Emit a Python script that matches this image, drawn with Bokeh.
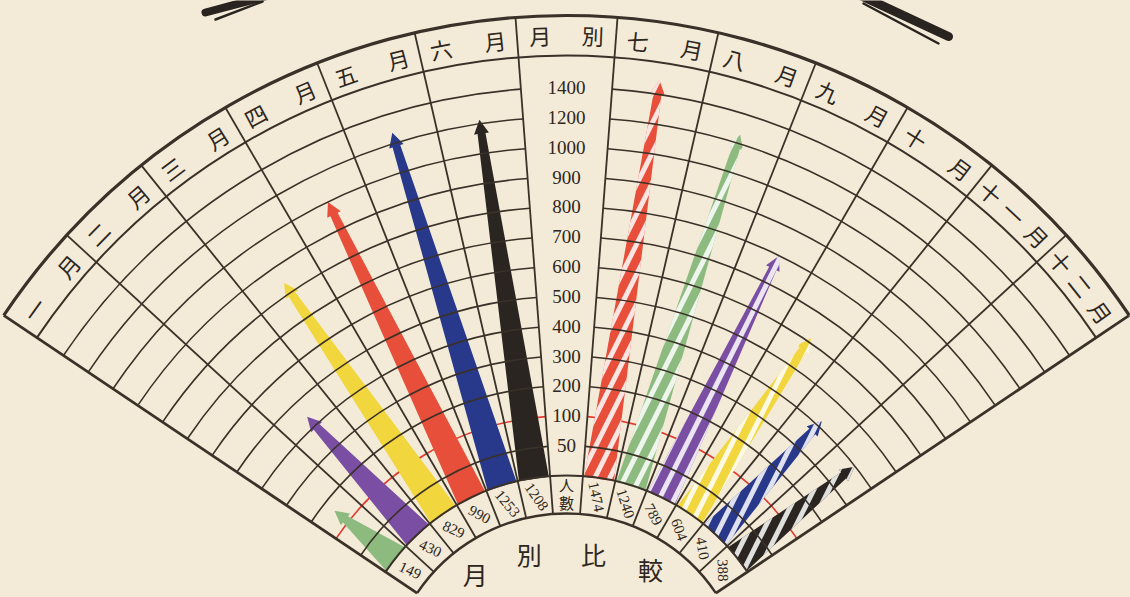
import math
import numpy as np
from bokeh.plotting import figure
from bokeh.models import Range1d
from bokeh.core.properties import value
from bokeh.embed import file_html
from bokeh.resources import INLINE

# ---------------- data ----------------
months = ["一月", "二月", "三月", "四月", "五月", "六月",
          "七月", "八月", "九月", "十月", "十一月", "十二月"]
counts = [149, 430, 829, 990, 1253, 1208, 1474, 1240, 789, 604, 410, 388]
bar_colors = ["#8dbb7f", "#7a4ea2", "#f1d63e", "#e74f3a", "#28398c", "#2a2521",
              "#e74f3a", "#8dbb7f", "#7a4ea2", "#f1d63e", "#28398c", "#2a2521"]
scale_values = [0, 50, 100, 200, 300, 400, 500, 600, 700, 800, 900, 1000, 1200, 1400]
scale_labels = ["50", "100", "200", "300", "400", "500", "600", "700",
                "800", "900", "1000", "1200", "1400"]
center_header = ["月", "別"]
center_cell = ["人", "數"]
title_chars = ["月", "別", "比", "較"]

# ---------------- layout ----------------
W, H = 1130, 597
BG = "#f3ebd7"
INK = "#3a3128"
CX, CY = 566.0, -96.0          # fan centre (y measured upward, page y = 597 - Y)
R_OUT, R_HEAD, R0, R_IN = 678.0, 638.0, 218.0, 180.0
STEP = 29.85
TH_R, TH_L = 33.9, 146.1
NSEC = 13
DTH = (TH_L - TH_R) / NSEC
month_sector = [0, 1, 2, 3, 4, 5, 7, 8, 9, 10, 11, 12]
cell_text_angle = [-25, -25, -24, -28, -50, -55, -78, -72, -62, -70, -80, -88]
CJK = value("Noto Sans CJK JP")
SERIF = value("Liberation Serif")
rad = math.radians


def level(v):
    if v <= scale_values[-1]:
        return float(np.interp(v, scale_values, np.arange(len(scale_values))))
    return len(scale_values) - 1 + (v - scale_values[-1]) / (scale_values[-1] - scale_values[-2])


def sec_center(k):
    return TH_L - (k + 0.5) * DTH


def pol(r, th, d=0.0):
    t = math.radians(th)
    ux, uy = math.cos(t), math.sin(t)
    return CX + r * ux - d * uy, CY + r * uy + d * ux


p = figure(width=W, height=H, x_range=Range1d(0, W), y_range=Range1d(597 - H, 597),
           output_backend="svg", toolbar_location=None, min_border=0,
           background_fill_color=BG, border_fill_color=BG)
p.axis.visible = False
p.grid.visible = False
p.outline_line_color = None

try:
    from bokeh.models import GlobalInlineStyleSheet
    p.stylesheets = [GlobalInlineStyleSheet(css="html, body { background-color: %s; }" % BG)]
except Exception:
    pass

b6 = TH_L - 6 * DTH
b7 = TH_L - 7 * DTH

# red 100-line (under the bars)
r100 = R0 + level(100) * STEP
p.arc(x=[CX, CX], y=[CY, CY], radius=r100, start_angle=[rad(b6), rad(TH_R)],
      end_angle=[rad(TH_L), rad(b7)], line_color="#e23a2e", line_width=1.6)

# ---------------- arrows ----------------
def arrow_poly(th, rt):
    w0 = 0.46 * math.radians(DTH) * R0
    wn, wh, hl = 4.0, 7.5, 14.0
    rn = max(rt - hl, R0 + 6)
    pts = [(R0 - 1, -w0), (rn, -wn), (rn, -wh), (rt, 0.0), (rn, wh), (rn, wn), (R0 - 1, w0)]
    xs, ys = [], []
    for r, d in pts:
        x, y = pol(r, th, d)
        xs.append(x)
        ys.append(y)
    return xs, ys

L = {"xs": [], "ys": [], "c": []}
Rt = {"xs": [], "ys": [], "c": []}
for i, v in enumerate(counts):
    th = sec_center(month_sector[i])
    rt = R0 + level(v) * STEP + 3
    xs, ys = arrow_poly(th, rt)
    tgt = L if i < 6 else Rt
    tgt["xs"].append(xs)
    tgt["ys"].append(ys)
    tgt["c"].append(bar_colors[i])

p.patches(xs=L["xs"], ys=L["ys"], fill_color=L["c"], line_color=None)
p.patches(xs=Rt["xs"], ys=Rt["ys"], fill_color=Rt["c"], line_color=None,
          hatch_pattern="/", hatch_color="white", hatch_weight=5, hatch_scale=30,
          hatch_alpha=0.85)

# ---------------- grid ----------------
for i in range(1, len(scale_values)):
    if scale_values[i] == 100:
        continue
    r = R0 + i * STEP
    p.arc(x=[CX, CX], y=[CY, CY], radius=r, start_angle=[rad(b6), rad(TH_R)],
          end_angle=[rad(TH_L), rad(b7)], line_color=INK, line_width=1.6)

for r, lw in [(R_OUT, 3.2), (R_HEAD, 2.0), (R0, 2.0), (R_IN, 2.4)]:
    p.arc(x=[CX], y=[CY], radius=r, start_angle=rad(TH_R), end_angle=rad(TH_L),
          line_color=INK, line_width=lw)

x0s, y0s, x1s, y1s, lws = [], [], [], [], []
for k in range(NSEC + 1):
    th = TH_L - k * DTH
    xa, ya = pol(R_IN, th)
    xb, yb = pol(R_OUT, th)
    x0s.append(xa); y0s.append(ya); x1s.append(xb); y1s.append(yb)
    lws.append(2.8 if k in (0, NSEC) else 1.8)
p.segment(x0=x0s, y0=y0s, x1=x1s, y1=y1s, line_color=INK, line_width=lws)

# ---------------- texts ----------------
tx, ty, tt, ta = [], [], [], []
for i, name in enumerate(months):
    th = sec_center(month_sector[i])
    offs = [2.4, -2.4] if len(name) == 2 else [2.9, 0.2, -2.7]
    for ch, o in zip(name, offs):
        x, y = pol(657, th + o)
        tx.append(x); ty.append(y); tt.append(ch); ta.append(math.radians(th + o - 90))
for ch, o in zip(center_header, [2.3, -2.3]):
    x, y = pol(659, 90 + o)
    tx.append(x); ty.append(y); tt.append(ch); ta.append(math.radians(o))
p.text(x=tx, y=ty, text=tt, angle=ta, text_font=CJK, text_font_size="22px",
       text_color="#2e2620", text_align="center", text_baseline="middle")

sx, sy = [], []
for i, lab in enumerate(scale_labels, start=1):
    x, y = pol(R0 + i * STEP, 90)
    sx.append(x); sy.append(y)
p.text(x=sx, y=sy, text=scale_labels, text_font=SERIF, text_font_size="19px",
       text_color="#2e2620", text_align="center", text_baseline="middle")

# counts written in the inner ring cells
nx, ny, nt, na = [], [], [], []
for i, v in enumerate(counts):
    th = sec_center(month_sector[i])
    x, y = pol((R0 + R_IN) / 2, th)
    nx.append(x); ny.append(y); nt.append(str(v)); na.append(math.radians(cell_text_angle[i]))
p.text(x=nx, y=ny, text=nt, angle=na, text_font=SERIF, text_font_size="15px",
       text_color="#2e2620", text_align="center", text_baseline="middle")

cx_, cy_ = [], []
for ch, r in zip(center_cell, [209, 191]):
    x, y = pol(r, 90)
    cx_.append(x); cy_.append(y)
p.text(x=cx_, y=cy_, text=center_cell, text_font=CJK, text_font_size="15px",
       text_color="#2e2620", text_align="center", text_baseline="middle")

bx, by = [], []
for th, r in zip([127.5, 105.0, 79.0, 56.0], [150, 144, 142, 150]):
    x, y = pol(r, th)
    bx.append(x); by.append(y)
p.text(x=bx, y=by, text=title_chars, text_font=CJK, text_font_size="25px",
       text_color="#2e2620", text_align="center", text_baseline="middle")

def ry(y):
    return 597 - y
p.segment(x0=[205, 215, 860, 863], y0=[ry(12), ry(19), ry(-5), ry(3)],
          x1=[265, 262, 948, 938], y1=[ry(-4), ry(1), ry(36), ry(43)],
          line_color="#2a2420", line_width=[8, 2.5, 9, 2.5], line_cap="round")

open("out.html", "w").write(file_html(p, INLINE))
